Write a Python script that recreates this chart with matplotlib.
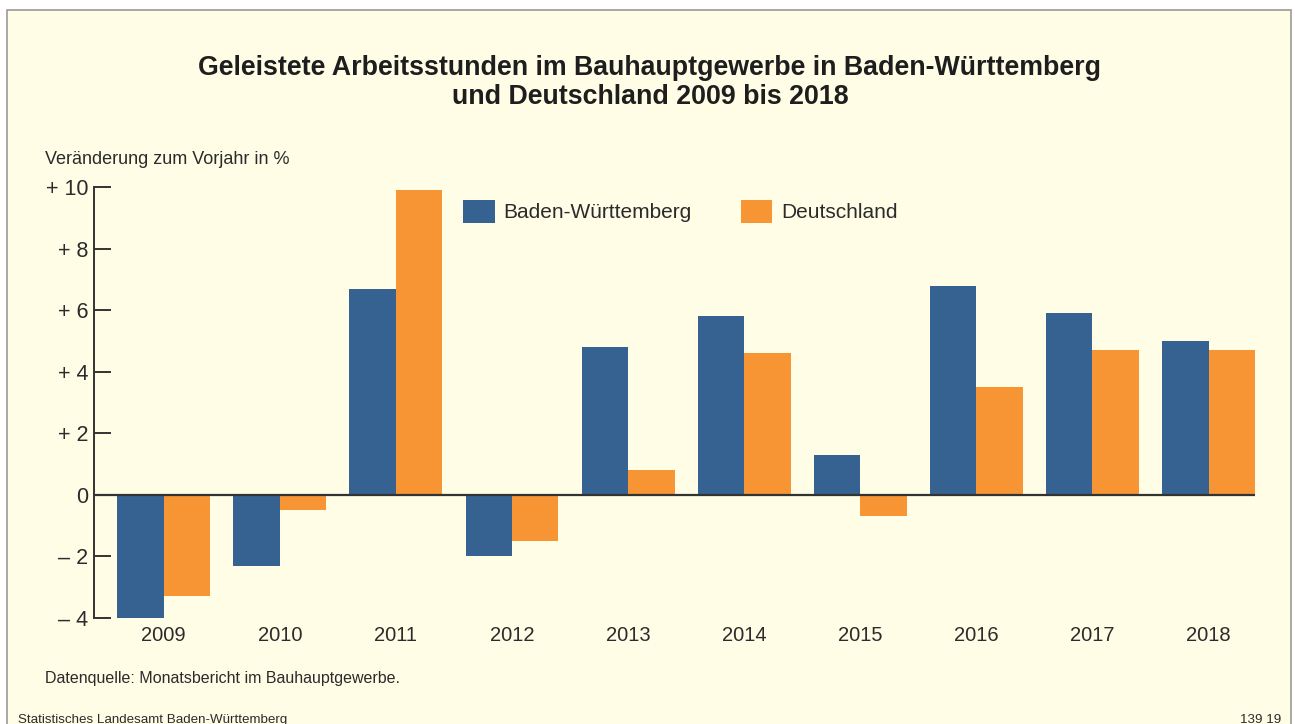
import numpy as np
import matplotlib
matplotlib.use("Agg")
import matplotlib.pyplot as plt
from matplotlib.patches import Rectangle

plt.rcParams['font.family'] = ['Liberation Sans', 'DejaVu Sans']

# Daten
jahre = ['2009', '2010', '2011', '2012', '2013', '2014', '2015', '2016', '2017', '2018']
bw = [-4.0, -2.3, 6.7, -2.0, 4.8, 5.8, 1.3, 6.8, 5.9, 5.0]
de = [-3.3, -0.5, 9.9, -1.5, 0.8, 4.6, -0.7, 3.5, 4.7, 4.7]
yticks = [-4, -2, 0, 2, 4, 6, 8, 10]
ytick_labels = ['\u2013 4', '\u2013 2', '0', '+ 2', '+ 4', '+ 6', '+ 8', '+ 10']

blau = '#356290'
orange = '#F79433'
hinter = '#FFFDE6'
text_farbe = '#2b2b2b'

W, H = 1295, 724
fig = plt.figure(figsize=(W / 100, H / 100), dpi=100)
fig.patch.set_facecolor('white')

# Rahmen mit cremefarbenem Hintergrund
fig.patches.append(Rectangle((7 / W, -0.01), (1291 - 7) / W, 1 - 10 / H + 0.01,
                             transform=fig.transFigure, facecolor=hinter,
                             edgecolor='#9a9a9a', linewidth=1.2, zorder=-10))

ax = fig.add_axes([94 / W, 1 - 618 / H, (1255 - 94) / W, (618 - 187) / H])
ax.set_facecolor('none')

x = np.arange(len(jahre))
b = 0.4
ax.bar(x - b / 2, bw, width=b, color=blau, label='Baden-Württemberg', zorder=2)
ax.bar(x + b / 2, de, width=b, color=orange, label='Deutschland', zorder=2)
ax.axhline(0, color='#333333', linewidth=1.6, zorder=3)

ax.set_xlim(-0.6, 9.4)
ax.set_ylim(-4, 10)
ax.set_yticks(yticks)
ax.set_yticklabels(ytick_labels)
ax.set_xticks(x)
ax.set_xticklabels(jahre)

for s in ['top', 'right', 'bottom']:
    ax.spines[s].set_visible(False)
ax.spines['left'].set_color('#333333')
ax.spines['left'].set_linewidth(1.4)
ax.tick_params(axis='y', direction='in', length=12, width=1.4, color='#333333',
               labelsize=15.5, labelcolor=text_farbe, pad=4)
ax.tick_params(axis='x', length=0, labelsize=14.5, labelcolor=text_farbe, pad=6)

ax.legend(loc='upper left', bbox_to_anchor=(0.302, 1.013), ncol=2, frameon=False,
          fontsize=15, handlelength=1.5, handleheight=1.3, columnspacing=2.4,
          handletextpad=0.4, labelcolor=text_farbe)

fig.text(650 / W, 1 - 68 / H, 'Geleistete Arbeitsstunden im Bauhauptgewerbe in Baden-Württemberg',
         ha='center', va='center', fontsize=19.3, fontweight='bold', color='#1e1e1e')
fig.text(650 / W, 1 - 97 / H, 'und Deutschland 2009 bis 2018',
         ha='center', va='center', fontsize=19.3, fontweight='bold', color='#1e1e1e')
fig.text(45 / W, 1 - 160 / H, 'Veränderung zum Vorjahr in %', ha='left', va='center',
         fontsize=13, color=text_farbe)
fig.text(45 / W, 1 - 678 / H, 'Datenquelle: Monatsbericht im Bauhauptgewerbe.',
         ha='left', va='center', fontsize=11.5, color=text_farbe)
fig.text(18 / W, 1 - 720 / H, 'Statistisches Landesamt Baden-Württemberg',
         ha='left', va='center', fontsize=9.6, color=text_farbe)
fig.text(1281 / W, 1 - 720 / H, '139 19', ha='right', va='center', fontsize=9.6,
         color=text_farbe)

fig.savefig('out.png', dpi=100, facecolor=fig.get_facecolor())
